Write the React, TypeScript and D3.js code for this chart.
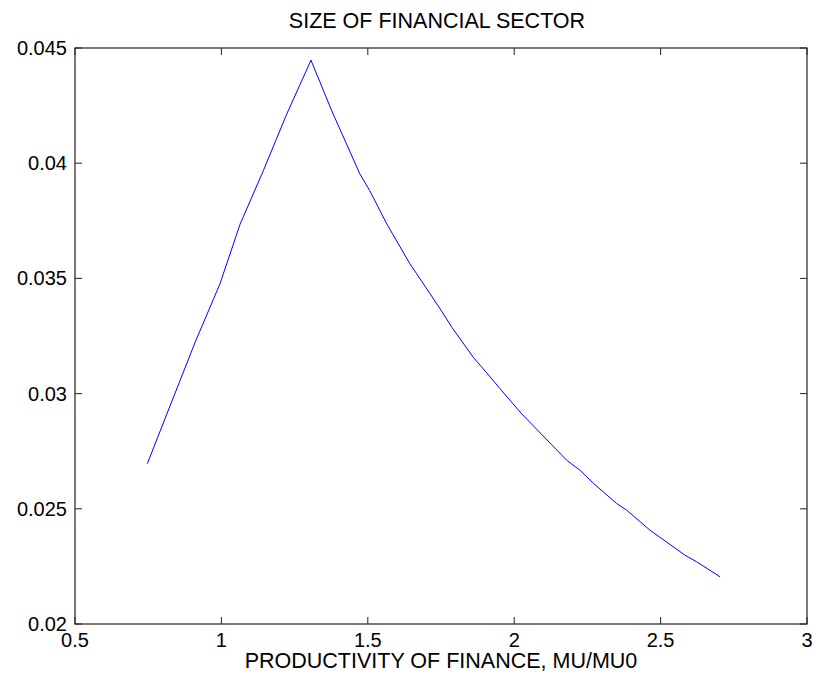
import React from "react";
import * as d3 from "d3";

const muValues = [
  0.747, 0.91, 0.995, 1.064, 1.143, 1.223, 1.306,
  1.377, 1.473, 1.507, 1.565, 1.644, 1.667, 1.747, 1.787, 1.86, 1.906, 1.952,
  2.025, 2.179, 2.225, 2.271, 2.35, 2.384, 2.464, 2.583, 2.623, 2.703,
];
const sizeValues = [
  0.02696, 0.03222, 0.03476, 0.03736, 0.03967, 0.04213, 0.04447,
  0.04227, 0.03953, 0.0388, 0.03736, 0.03563, 0.0352, 0.03368, 0.03288, 0.03158, 0.0309, 0.03021,
  0.02913, 0.02711, 0.02667, 0.0261, 0.02523, 0.02494, 0.02407, 0.02299, 0.0227, 0.02205,
];
const xTicks = [0.5, 1, 1.5, 2, 2.5, 3];
const xTickLabels = ["0.5", "1", "1.5", "2", "2.5", "3"];
const yTicks = [0.02, 0.025, 0.03, 0.035, 0.04, 0.045];
const yTickLabels = ["0.02", "0.025", "0.03", "0.035", "0.04", "0.045"];
const title = "SIZE OF FINANCIAL SECTOR";
const xLabel = "PRODUCTIVITY OF FINANCE, MU/MU0";

export default function App() {
  const W = 817, H = 684;
  const left = 75, right = 807, top = 48, bottom = 624;
  const x = d3.scaleLinear().domain([0.5, 3]).range([left, right]);
  const y = d3.scaleLinear().domain([0.02, 0.045]).range([bottom, top]);
  const pts: [number, number][] = muValues.map((m, i) => [m, sizeValues[i]]);
  const line = d3.line<[number, number]>().x(d => x(d[0])).y(d => y(d[1]));
  const tl = 7;
  const font = "'Liberation Sans', Arial, Helvetica, sans-serif";
  return (
    <svg width={W} height={H} style={{ position: "absolute", left: 0, top: 0, background: "#fff" }} fontFamily={font}>
      <rect x={0} y={0} width={W} height={H} fill="#fff" />
      <path d={line(pts) || ""} fill="none" stroke="#0000ff" strokeWidth={1} />
      <rect x={left} y={top} width={right - left} height={bottom - top} fill="none" stroke="#222" strokeWidth={1.2} />
      {xTicks.map((t, i) => (
        <g key={"x" + i}>
          <line x1={x(t)} x2={x(t)} y1={bottom} y2={bottom - tl} stroke="#222" />
          <line x1={x(t)} x2={x(t)} y1={top} y2={top + tl} stroke="#222" />
          <text x={x(t)} y={647} textAnchor="middle" fontSize={20} fill="#000">{xTickLabels[i]}</text>
        </g>
      ))}
      {yTicks.map((t, i) => (
        <g key={"y" + i}>
          <line x1={left} x2={left + tl} y1={y(t)} y2={y(t)} stroke="#222" />
          <line x1={right} x2={right - tl} y1={y(t)} y2={y(t)} stroke="#222" />
          <text x={67} y={y(t) + 7} textAnchor="end" fontSize={20} fill="#000">{yTickLabels[i]}</text>
        </g>
      ))}
      <text x={(left + right) / 2 - 4} y={28} textAnchor="middle" fontSize={21.5} fill="#000">{title}</text>
      <text x={(left + right) / 2} y={668} textAnchor="middle" fontSize={21.5} fill="#000">{xLabel}</text>
    </svg>
  );
}
